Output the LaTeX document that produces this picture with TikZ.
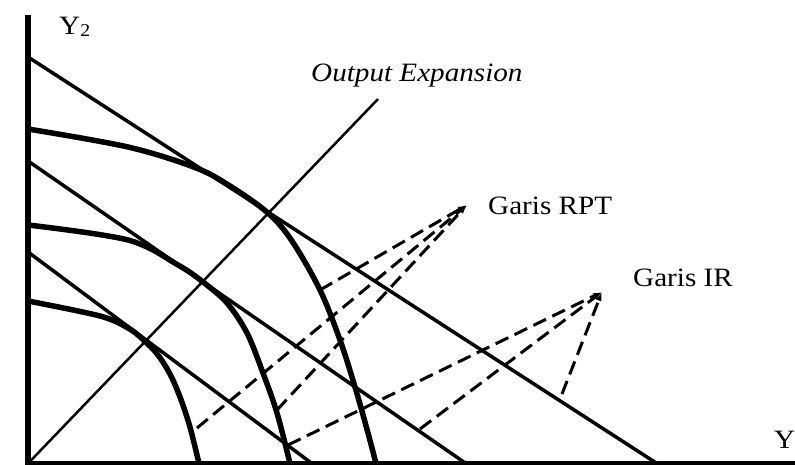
\documentclass[tikz,border=0pt]{standalone}
\usepackage{fontspec}
\setmainfont{Liberation Serif}[FakeStretch=1.1]
\usetikzlibrary{arrows.meta}
\begin{document}
\begin{tikzpicture}[x=1pt,y=-1pt,
  axisline/.style={line width=5.5pt},
  irline/.style={line width=3.5pt},
  ppf/.style={line width=5.5pt},
  expline/.style={line width=2.5pt},
  guide/.style={line width=3pt, dash pattern=on 14pt off 7pt,
    -{Latex[length=9pt,width=6pt]}},
  lbl/.style={inner sep=0pt, anchor=base west, font=\fontsize{26.5}{30}\selectfont}]
\useasboundingbox (0,0) rectangle (795,465);

% axes
\coordinate (ytop) at (28,15);
\coordinate (ybot) at (28,466);
\coordinate (xleft) at (25.25,463.5);
\coordinate (xright) at (800,463.5);
\draw[axisline] (ytop) -- (ybot);
\draw[axisline] (xleft) -- (xright);

% straight lines (Garis IR)
\coordinate (a0) at (28,57);   \coordinate (a1) at (657,463.5);
\coordinate (b0) at (28,161);  \coordinate (b1) at (466,463.5);
\coordinate (c0) at (28,252);  \coordinate (c1) at (312,463.5);
\draw[irline] (a0) -- (a1);
\draw[irline] (b0) -- (b1);
\draw[irline] (c0) -- (c1);

% output expansion line
\coordinate (O) at (28,463.5);
\coordinate (e1) at (378,99);
\draw[expline] (O) -- (e1);

% production possibility curves
\draw[ppf] plot[smooth, tension=0.55] coordinates {(28,129) (128,147) (195,167.5) (230,186) (268,213) (292,241) (320,290) (340,340) (355,387) (368,433) (376,463.5)};
\draw[ppf] plot[smooth, tension=0.55] coordinates {(28,225) (128,240) (178,265) (203,282) (227,303) (247,333) (263,373) (277,413) (290,463.5)};
\draw[ppf] plot[smooth, tension=0.55] coordinates {(28,301) (100,316) (128,328) (143,339.5) (158,355) (171,376) (181.5,401) (190.5,429) (199,463.5)};

% tips
\coordinate (rpt) at (467,205);
\coordinate (ir) at (602,292);

% dashed guides to Garis RPT
\coordinate (r1) at (197,428);
\coordinate (r2) at (277,410);
\coordinate (r3) at (320,290);
\draw[guide] (r1) -- (rpt);
\draw[guide] (r2) -- (rpt);
\draw[guide] (r3) -- (rpt);

% dashed guides to Garis IR
\coordinate (i1) at (288,445);
\coordinate (i2) at (420,429);
\coordinate (i3) at (562,394);
\draw[guide] (i1) -- (ir);
\draw[guide] (i2) -- (ir);
\draw[guide] (i3) -- (ir);

% labels
\node[lbl] (y2lbl) at (59,34.5) {Y\raisebox{-2.5pt}{\fontsize{18}{18}\selectfont 2}};
\node[lbl] (ylbl) at (774,448) {Y};
\node[lbl] (explbl) at (311,82) {\itshape Output Expansion};
\node[lbl] (rptlbl) at (488,214.5) {Garis RPT};
\node[lbl] (irlbl) at (633,286) {Garis IR};
\end{tikzpicture}
\end{document}
